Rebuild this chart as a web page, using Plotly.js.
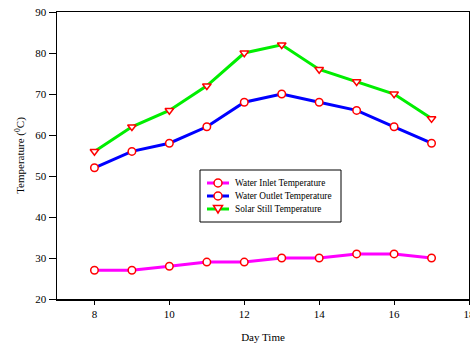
<!DOCTYPE html>
<html>
<head>
<meta charset="utf-8">
<script src="https://cdn.plot.ly/plotly-3.0.1.min.js"></script>
<style>html,body{margin:0;padding:0;background:#fff;}#chart{width:470px;height:345px;}</style>
</head>
<body>
<div id="chart"></div>
<script>
const hours = [8, 9, 10, 11, 12, 13, 14, 15, 16, 17];
const inletTemp = [27, 27, 28, 29, 29, 30, 30, 31, 31, 30];
const outletTemp = [52, 56, 58, 62, 68, 70, 68, 66, 62, 58];
const stillTemp = [56, 62, 66, 72, 80, 82, 76, 73, 70, 64];
const seriesNames = ["Water Inlet Temperature", "Water Outlet Temperature", "Solar Still Temperature"];
const seriesColors = ['#ff00ff', '#0000ff', '#00ee00'];
const seriesSymbols = ['circle', 'circle', 'triangle-down'];

const W = 470, H = 345, M = {l: 57, r: 1, t: 12, b: 46};
const PW = W - M.l - M.r, PH = H - M.t - M.b;
const px2x = (px) => (px - M.l) / PW;
const py2y = (py) => (H - M.b - py) / PH;

const mk = (sym) => ({symbol: sym, size: 7.5, color: '#ffffff', line: {color: '#ff0000', width: 1.5}});
const ys = [inletTemp, outletTemp, stillTemp];
const traces = ys.map((y, i) => ({
  x: hours, y: y, name: seriesNames[i], mode: 'lines+markers',
  line: {color: seriesColors[i], width: 3}, marker: mk(seriesSymbols[i]), showlegend: false
}));

const fnt = {family: '"Liberation Serif", "Times New Roman", serif', color: '#000'};

// custom compact legend
const shapes = [];
const annotations = [];
const box = {x0: 200, x1: 341, y0: 170, y1: 222};
shapes.push({type: 'rect', xref: 'paper', yref: 'paper', x0: px2x(box.x0), x1: px2x(box.x1), y0: py2y(box.y1), y1: py2y(box.y0),
             line: {color: '#000', width: 1}, fillcolor: '#fff', layer: 'above'});
const rowY = [183, 196, 209];
seriesNames.forEach((nm, i) => {
  const yy = py2y(rowY[i]);
  shapes.push({type: 'line', xref: 'paper', yref: 'paper', x0: px2x(207), x1: px2x(229), y0: yy, y1: yy,
               line: {color: seriesColors[i], width: 3}, layer: 'above'});
  const cx = px2x(218);
  if (seriesSymbols[i] === 'circle') {
    shapes.push({type: 'circle', xref: 'paper', yref: 'paper', xsizemode: 'pixel', ysizemode: 'pixel',
                 xanchor: cx, yanchor: yy, x0: -4, x1: 4, y0: -4, y1: 4,
                 line: {color: '#ff0000', width: 1.5}, fillcolor: '#fff', layer: 'above'});
  } else {
    shapes.push({type: 'path', xref: 'paper', yref: 'paper', xsizemode: 'pixel', ysizemode: 'pixel',
                 xanchor: cx, yanchor: yy, path: 'M -4.5 3.5 L 4.5 3.5 L 0 -4 Z',
                 line: {color: '#ff0000', width: 1.5}, fillcolor: '#fff', layer: 'above'});
  }
  annotations.push({xref: 'paper', yref: 'paper', x: px2x(233), y: yy, xanchor: 'left', yanchor: 'middle',
                    text: nm, showarrow: false, font: Object.assign({size: 9.3}, fnt)});
});

const layout = {
  width: W, height: H,
  margin: M,
  paper_bgcolor: '#fff', plot_bgcolor: '#fff',
  font: Object.assign({size: 11}, fnt),
  showlegend: false,
  shapes: shapes,
  annotations: annotations,
  xaxis: {range: [7, 18], tick0: 8, dtick: 2, showline: true, linecolor: '#000', linewidth: 1.5, mirror: true,
          ticks: 'outside', ticklen: 4, tickcolor: '#000', showgrid: false, zeroline: false,
          ticklabeloverflow: 'allow',
          tickfont: Object.assign({size: 11}, fnt),
          title: {text: 'Day Time', font: Object.assign({size: 11}, fnt), standoff: 14}},
  yaxis: {range: [20, 90], dtick: 10, showline: true, linecolor: '#000', linewidth: 1.5, mirror: true,
          ticks: 'outside', ticklen: 7, tickcolor: '#000', showgrid: false, zeroline: false,
          tickfont: Object.assign({size: 11}, fnt),
          title: {text: 'Temperature (<sup>0</sup>C)', font: Object.assign({size: 11}, fnt), standoff: 8}}
};
Plotly.newPlot('chart', traces, layout, {displayModeBar: false, staticPlot: true});
</script>
</body>
</html>
